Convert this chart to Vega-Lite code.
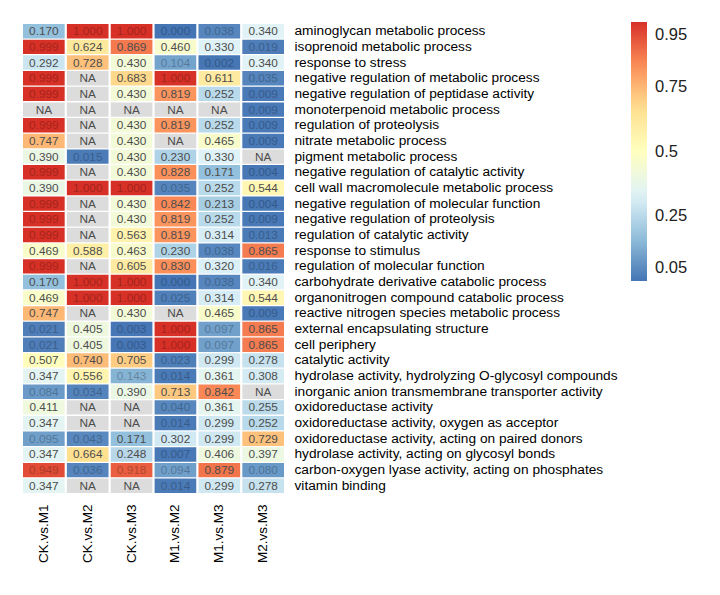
{
 "$schema": "https://vega.github.io/schema/vega-lite/v6.json",
 "width": 261,
 "height": 469,
 "autosize": "none",
 "padding": {"left": 23, "top": 24, "right": 436, "bottom": 102},
 "background": "white",
 "config": {"view": {"stroke": null}, "font": "Liberation Sans"},
 "data": {"values": [
  {"term":"aminoglycan metabolic process","comp":"CK.vs.M1","v":0.170},
  {"term":"aminoglycan metabolic process","comp":"CK.vs.M2","v":1.000},
  {"term":"aminoglycan metabolic process","comp":"CK.vs.M3","v":1.000},
  {"term":"aminoglycan metabolic process","comp":"M1.vs.M2","v":0.000},
  {"term":"aminoglycan metabolic process","comp":"M1.vs.M3","v":0.038},
  {"term":"aminoglycan metabolic process","comp":"M2.vs.M3","v":0.340},
  {"term":"isoprenoid metabolic process","comp":"CK.vs.M1","v":0.999},
  {"term":"isoprenoid metabolic process","comp":"CK.vs.M2","v":0.624},
  {"term":"isoprenoid metabolic process","comp":"CK.vs.M3","v":0.869},
  {"term":"isoprenoid metabolic process","comp":"M1.vs.M2","v":0.460},
  {"term":"isoprenoid metabolic process","comp":"M1.vs.M3","v":0.330},
  {"term":"isoprenoid metabolic process","comp":"M2.vs.M3","v":0.019},
  {"term":"response to stress","comp":"CK.vs.M1","v":0.292},
  {"term":"response to stress","comp":"CK.vs.M2","v":0.728},
  {"term":"response to stress","comp":"CK.vs.M3","v":0.430},
  {"term":"response to stress","comp":"M1.vs.M2","v":0.104},
  {"term":"response to stress","comp":"M1.vs.M3","v":0.002},
  {"term":"response to stress","comp":"M2.vs.M3","v":0.340},
  {"term":"negative regulation of metabolic process","comp":"CK.vs.M1","v":0.999},
  {"term":"negative regulation of metabolic process","comp":"CK.vs.M2","v":null},
  {"term":"negative regulation of metabolic process","comp":"CK.vs.M3","v":0.683},
  {"term":"negative regulation of metabolic process","comp":"M1.vs.M2","v":1.000},
  {"term":"negative regulation of metabolic process","comp":"M1.vs.M3","v":0.611},
  {"term":"negative regulation of metabolic process","comp":"M2.vs.M3","v":0.035},
  {"term":"negative regulation of peptidase activity","comp":"CK.vs.M1","v":0.999},
  {"term":"negative regulation of peptidase activity","comp":"CK.vs.M2","v":null},
  {"term":"negative regulation of peptidase activity","comp":"CK.vs.M3","v":0.430},
  {"term":"negative regulation of peptidase activity","comp":"M1.vs.M2","v":0.819},
  {"term":"negative regulation of peptidase activity","comp":"M1.vs.M3","v":0.252},
  {"term":"negative regulation of peptidase activity","comp":"M2.vs.M3","v":0.009},
  {"term":"monoterpenoid metabolic process","comp":"CK.vs.M1","v":null},
  {"term":"monoterpenoid metabolic process","comp":"CK.vs.M2","v":null},
  {"term":"monoterpenoid metabolic process","comp":"CK.vs.M3","v":null},
  {"term":"monoterpenoid metabolic process","comp":"M1.vs.M2","v":null},
  {"term":"monoterpenoid metabolic process","comp":"M1.vs.M3","v":null},
  {"term":"monoterpenoid metabolic process","comp":"M2.vs.M3","v":0.009},
  {"term":"regulation of proteolysis","comp":"CK.vs.M1","v":0.999},
  {"term":"regulation of proteolysis","comp":"CK.vs.M2","v":null},
  {"term":"regulation of proteolysis","comp":"CK.vs.M3","v":0.430},
  {"term":"regulation of proteolysis","comp":"M1.vs.M2","v":0.819},
  {"term":"regulation of proteolysis","comp":"M1.vs.M3","v":0.252},
  {"term":"regulation of proteolysis","comp":"M2.vs.M3","v":0.009},
  {"term":"nitrate metabolic process","comp":"CK.vs.M1","v":0.747},
  {"term":"nitrate metabolic process","comp":"CK.vs.M2","v":null},
  {"term":"nitrate metabolic process","comp":"CK.vs.M3","v":0.430},
  {"term":"nitrate metabolic process","comp":"M1.vs.M2","v":null},
  {"term":"nitrate metabolic process","comp":"M1.vs.M3","v":0.465},
  {"term":"nitrate metabolic process","comp":"M2.vs.M3","v":0.009},
  {"term":"pigment metabolic process","comp":"CK.vs.M1","v":0.390},
  {"term":"pigment metabolic process","comp":"CK.vs.M2","v":0.015},
  {"term":"pigment metabolic process","comp":"CK.vs.M3","v":0.430},
  {"term":"pigment metabolic process","comp":"M1.vs.M2","v":0.230},
  {"term":"pigment metabolic process","comp":"M1.vs.M3","v":0.330},
  {"term":"pigment metabolic process","comp":"M2.vs.M3","v":null},
  {"term":"negative regulation of catalytic activity","comp":"CK.vs.M1","v":0.999},
  {"term":"negative regulation of catalytic activity","comp":"CK.vs.M2","v":null},
  {"term":"negative regulation of catalytic activity","comp":"CK.vs.M3","v":0.430},
  {"term":"negative regulation of catalytic activity","comp":"M1.vs.M2","v":0.828},
  {"term":"negative regulation of catalytic activity","comp":"M1.vs.M3","v":0.171},
  {"term":"negative regulation of catalytic activity","comp":"M2.vs.M3","v":0.004},
  {"term":"cell wall macromolecule metabolic process","comp":"CK.vs.M1","v":0.390},
  {"term":"cell wall macromolecule metabolic process","comp":"CK.vs.M2","v":1.000},
  {"term":"cell wall macromolecule metabolic process","comp":"CK.vs.M3","v":1.000},
  {"term":"cell wall macromolecule metabolic process","comp":"M1.vs.M2","v":0.035},
  {"term":"cell wall macromolecule metabolic process","comp":"M1.vs.M3","v":0.252},
  {"term":"cell wall macromolecule metabolic process","comp":"M2.vs.M3","v":0.544},
  {"term":"negative regulation of molecular function","comp":"CK.vs.M1","v":0.999},
  {"term":"negative regulation of molecular function","comp":"CK.vs.M2","v":null},
  {"term":"negative regulation of molecular function","comp":"CK.vs.M3","v":0.430},
  {"term":"negative regulation of molecular function","comp":"M1.vs.M2","v":0.842},
  {"term":"negative regulation of molecular function","comp":"M1.vs.M3","v":0.213},
  {"term":"negative regulation of molecular function","comp":"M2.vs.M3","v":0.004},
  {"term":"negative regulation of proteolysis","comp":"CK.vs.M1","v":0.999},
  {"term":"negative regulation of proteolysis","comp":"CK.vs.M2","v":null},
  {"term":"negative regulation of proteolysis","comp":"CK.vs.M3","v":0.430},
  {"term":"negative regulation of proteolysis","comp":"M1.vs.M2","v":0.819},
  {"term":"negative regulation of proteolysis","comp":"M1.vs.M3","v":0.252},
  {"term":"negative regulation of proteolysis","comp":"M2.vs.M3","v":0.009},
  {"term":"regulation of catalytic activity","comp":"CK.vs.M1","v":0.999},
  {"term":"regulation of catalytic activity","comp":"CK.vs.M2","v":null},
  {"term":"regulation of catalytic activity","comp":"CK.vs.M3","v":0.563},
  {"term":"regulation of catalytic activity","comp":"M1.vs.M2","v":0.819},
  {"term":"regulation of catalytic activity","comp":"M1.vs.M3","v":0.314},
  {"term":"regulation of catalytic activity","comp":"M2.vs.M3","v":0.013},
  {"term":"response to stimulus","comp":"CK.vs.M1","v":0.469},
  {"term":"response to stimulus","comp":"CK.vs.M2","v":0.588},
  {"term":"response to stimulus","comp":"CK.vs.M3","v":0.463},
  {"term":"response to stimulus","comp":"M1.vs.M2","v":0.230},
  {"term":"response to stimulus","comp":"M1.vs.M3","v":0.038},
  {"term":"response to stimulus","comp":"M2.vs.M3","v":0.865},
  {"term":"regulation of molecular function","comp":"CK.vs.M1","v":0.999},
  {"term":"regulation of molecular function","comp":"CK.vs.M2","v":null},
  {"term":"regulation of molecular function","comp":"CK.vs.M3","v":0.605},
  {"term":"regulation of molecular function","comp":"M1.vs.M2","v":0.830},
  {"term":"regulation of molecular function","comp":"M1.vs.M3","v":0.320},
  {"term":"regulation of molecular function","comp":"M2.vs.M3","v":0.016},
  {"term":"carbohydrate derivative catabolic process","comp":"CK.vs.M1","v":0.170},
  {"term":"carbohydrate derivative catabolic process","comp":"CK.vs.M2","v":1.000},
  {"term":"carbohydrate derivative catabolic process","comp":"CK.vs.M3","v":1.000},
  {"term":"carbohydrate derivative catabolic process","comp":"M1.vs.M2","v":0.000},
  {"term":"carbohydrate derivative catabolic process","comp":"M1.vs.M3","v":0.038},
  {"term":"carbohydrate derivative catabolic process","comp":"M2.vs.M3","v":0.340},
  {"term":"organonitrogen compound catabolic process","comp":"CK.vs.M1","v":0.469},
  {"term":"organonitrogen compound catabolic process","comp":"CK.vs.M2","v":1.000},
  {"term":"organonitrogen compound catabolic process","comp":"CK.vs.M3","v":1.000},
  {"term":"organonitrogen compound catabolic process","comp":"M1.vs.M2","v":0.025},
  {"term":"organonitrogen compound catabolic process","comp":"M1.vs.M3","v":0.314},
  {"term":"organonitrogen compound catabolic process","comp":"M2.vs.M3","v":0.544},
  {"term":"reactive nitrogen species metabolic process","comp":"CK.vs.M1","v":0.747},
  {"term":"reactive nitrogen species metabolic process","comp":"CK.vs.M2","v":null},
  {"term":"reactive nitrogen species metabolic process","comp":"CK.vs.M3","v":0.430},
  {"term":"reactive nitrogen species metabolic process","comp":"M1.vs.M2","v":null},
  {"term":"reactive nitrogen species metabolic process","comp":"M1.vs.M3","v":0.465},
  {"term":"reactive nitrogen species metabolic process","comp":"M2.vs.M3","v":0.009},
  {"term":"external encapsulating structure","comp":"CK.vs.M1","v":0.021},
  {"term":"external encapsulating structure","comp":"CK.vs.M2","v":0.405},
  {"term":"external encapsulating structure","comp":"CK.vs.M3","v":0.003},
  {"term":"external encapsulating structure","comp":"M1.vs.M2","v":1.000},
  {"term":"external encapsulating structure","comp":"M1.vs.M3","v":0.097},
  {"term":"external encapsulating structure","comp":"M2.vs.M3","v":0.865},
  {"term":"cell periphery","comp":"CK.vs.M1","v":0.021},
  {"term":"cell periphery","comp":"CK.vs.M2","v":0.405},
  {"term":"cell periphery","comp":"CK.vs.M3","v":0.003},
  {"term":"cell periphery","comp":"M1.vs.M2","v":1.000},
  {"term":"cell periphery","comp":"M1.vs.M3","v":0.097},
  {"term":"cell periphery","comp":"M2.vs.M3","v":0.865},
  {"term":"catalytic activity","comp":"CK.vs.M1","v":0.507},
  {"term":"catalytic activity","comp":"CK.vs.M2","v":0.740},
  {"term":"catalytic activity","comp":"CK.vs.M3","v":0.705},
  {"term":"catalytic activity","comp":"M1.vs.M2","v":0.023},
  {"term":"catalytic activity","comp":"M1.vs.M3","v":0.299},
  {"term":"catalytic activity","comp":"M2.vs.M3","v":0.278},
  {"term":"hydrolase activity, hydrolyzing O-glycosyl compounds","comp":"CK.vs.M1","v":0.347},
  {"term":"hydrolase activity, hydrolyzing O-glycosyl compounds","comp":"CK.vs.M2","v":0.556},
  {"term":"hydrolase activity, hydrolyzing O-glycosyl compounds","comp":"CK.vs.M3","v":0.143},
  {"term":"hydrolase activity, hydrolyzing O-glycosyl compounds","comp":"M1.vs.M2","v":0.014},
  {"term":"hydrolase activity, hydrolyzing O-glycosyl compounds","comp":"M1.vs.M3","v":0.361},
  {"term":"hydrolase activity, hydrolyzing O-glycosyl compounds","comp":"M2.vs.M3","v":0.308},
  {"term":"inorganic anion transmembrane transporter activity","comp":"CK.vs.M1","v":0.084},
  {"term":"inorganic anion transmembrane transporter activity","comp":"CK.vs.M2","v":0.034},
  {"term":"inorganic anion transmembrane transporter activity","comp":"CK.vs.M3","v":0.390},
  {"term":"inorganic anion transmembrane transporter activity","comp":"M1.vs.M2","v":0.713},
  {"term":"inorganic anion transmembrane transporter activity","comp":"M1.vs.M3","v":0.842},
  {"term":"inorganic anion transmembrane transporter activity","comp":"M2.vs.M3","v":null},
  {"term":"oxidoreductase activity","comp":"CK.vs.M1","v":0.411},
  {"term":"oxidoreductase activity","comp":"CK.vs.M2","v":null},
  {"term":"oxidoreductase activity","comp":"CK.vs.M3","v":null},
  {"term":"oxidoreductase activity","comp":"M1.vs.M2","v":0.040},
  {"term":"oxidoreductase activity","comp":"M1.vs.M3","v":0.361},
  {"term":"oxidoreductase activity","comp":"M2.vs.M3","v":0.255},
  {"term":"oxidoreductase activity, oxygen as acceptor","comp":"CK.vs.M1","v":0.347},
  {"term":"oxidoreductase activity, oxygen as acceptor","comp":"CK.vs.M2","v":null},
  {"term":"oxidoreductase activity, oxygen as acceptor","comp":"CK.vs.M3","v":null},
  {"term":"oxidoreductase activity, oxygen as acceptor","comp":"M1.vs.M2","v":0.014},
  {"term":"oxidoreductase activity, oxygen as acceptor","comp":"M1.vs.M3","v":0.299},
  {"term":"oxidoreductase activity, oxygen as acceptor","comp":"M2.vs.M3","v":0.252},
  {"term":"oxidoreductase activity, acting on paired donors","comp":"CK.vs.M1","v":0.095},
  {"term":"oxidoreductase activity, acting on paired donors","comp":"CK.vs.M2","v":0.043},
  {"term":"oxidoreductase activity, acting on paired donors","comp":"CK.vs.M3","v":0.171},
  {"term":"oxidoreductase activity, acting on paired donors","comp":"M1.vs.M2","v":0.302},
  {"term":"oxidoreductase activity, acting on paired donors","comp":"M1.vs.M3","v":0.299},
  {"term":"oxidoreductase activity, acting on paired donors","comp":"M2.vs.M3","v":0.729},
  {"term":"hydrolase activity, acting on glycosyl bonds","comp":"CK.vs.M1","v":0.347},
  {"term":"hydrolase activity, acting on glycosyl bonds","comp":"CK.vs.M2","v":0.664},
  {"term":"hydrolase activity, acting on glycosyl bonds","comp":"CK.vs.M3","v":0.248},
  {"term":"hydrolase activity, acting on glycosyl bonds","comp":"M1.vs.M2","v":0.007},
  {"term":"hydrolase activity, acting on glycosyl bonds","comp":"M1.vs.M3","v":0.406},
  {"term":"hydrolase activity, acting on glycosyl bonds","comp":"M2.vs.M3","v":0.397},
  {"term":"carbon-oxygen lyase activity, acting on phosphates","comp":"CK.vs.M1","v":0.949},
  {"term":"carbon-oxygen lyase activity, acting on phosphates","comp":"CK.vs.M2","v":0.036},
  {"term":"carbon-oxygen lyase activity, acting on phosphates","comp":"CK.vs.M3","v":0.918},
  {"term":"carbon-oxygen lyase activity, acting on phosphates","comp":"M1.vs.M2","v":0.094},
  {"term":"carbon-oxygen lyase activity, acting on phosphates","comp":"M1.vs.M3","v":0.879},
  {"term":"carbon-oxygen lyase activity, acting on phosphates","comp":"M2.vs.M3","v":0.080},
  {"term":"vitamin binding","comp":"CK.vs.M1","v":0.347},
  {"term":"vitamin binding","comp":"CK.vs.M2","v":null},
  {"term":"vitamin binding","comp":"CK.vs.M3","v":null},
  {"term":"vitamin binding","comp":"M1.vs.M2","v":0.014},
  {"term":"vitamin binding","comp":"M1.vs.M3","v":0.299},
  {"term":"vitamin binding","comp":"M2.vs.M3","v":0.278}
 ]},
 "encoding": {
  "x": {"field": "comp", "type": "nominal", "sort": null,
        "scale": {"paddingInner": 0.05, "paddingOuter": 0},
        "axis": {"orient": "bottom", "title": null, "labelAngle": -90, "labelAlign": "right", "labelBaseline": "middle",
                 "labelFontSize": 13.5, "labelColor": "#000", "ticks": false, "domain": false, "labelPadding": 11}},
  "y": {"field": "term", "type": "nominal", "sort": null,
        "scale": {"paddingInner": 0.08, "paddingOuter": 0},
        "axis": {"orient": "right", "title": null, "ticks": false, "domain": false, "labelFontSize": 13.7,
                 "labelColor": "#000", "labelPadding": 10, "labelLimit": 420}}
 },
 "layer": [
  {"mark": {"type": "rect", "invalid": null},
   "encoding": {
    "color": {"condition": {"test": "datum.v === null", "value": "#dcdcdc"},
              "field": "v", "type": "quantitative",
              "scale": {"domain": [0, 1], "interpolate": "rgb", "range": ["#4575B4", "#91BFDB", "#E0F3F8", "#FFFFBF", "#FEE090", "#FC8D59", "#D73027"]},
              "legend": {"orient": "none", "legendX": 608, "legendY": -2, "direction": "vertical",
                         "gradientLength": 259, "gradientThickness": 16, "title": null,
                         "values": [0.05, 0.25, 0.5, 0.75, 0.95], "format": ".2~f",
                         "labelFontSize": 16.5, "labelOffset": 8, "labelColor": "#222",
                         "gradientStrokeWidth": 0, "labelOverlap": false}}
   }},
  {"mark": {"type": "text", "fontSize": 11.8},
   "encoding": {
    "text": {"condition": {"test": "datum.v === null", "value": "NA"}, "field": "v", "type": "quantitative", "format": ".3f"},
    "color": {"condition": {"test": "datum.v !== null && (datum.v > 0.9 || datum.v < 0.15)", "value": "#000000"}, "value": "#4d4d4d"},
    "opacity": {"condition": {"test": "datum.v !== null && (datum.v > 0.9 || datum.v < 0.15)", "value": 0.25}, "value": 1}
   }}
 ]
}
